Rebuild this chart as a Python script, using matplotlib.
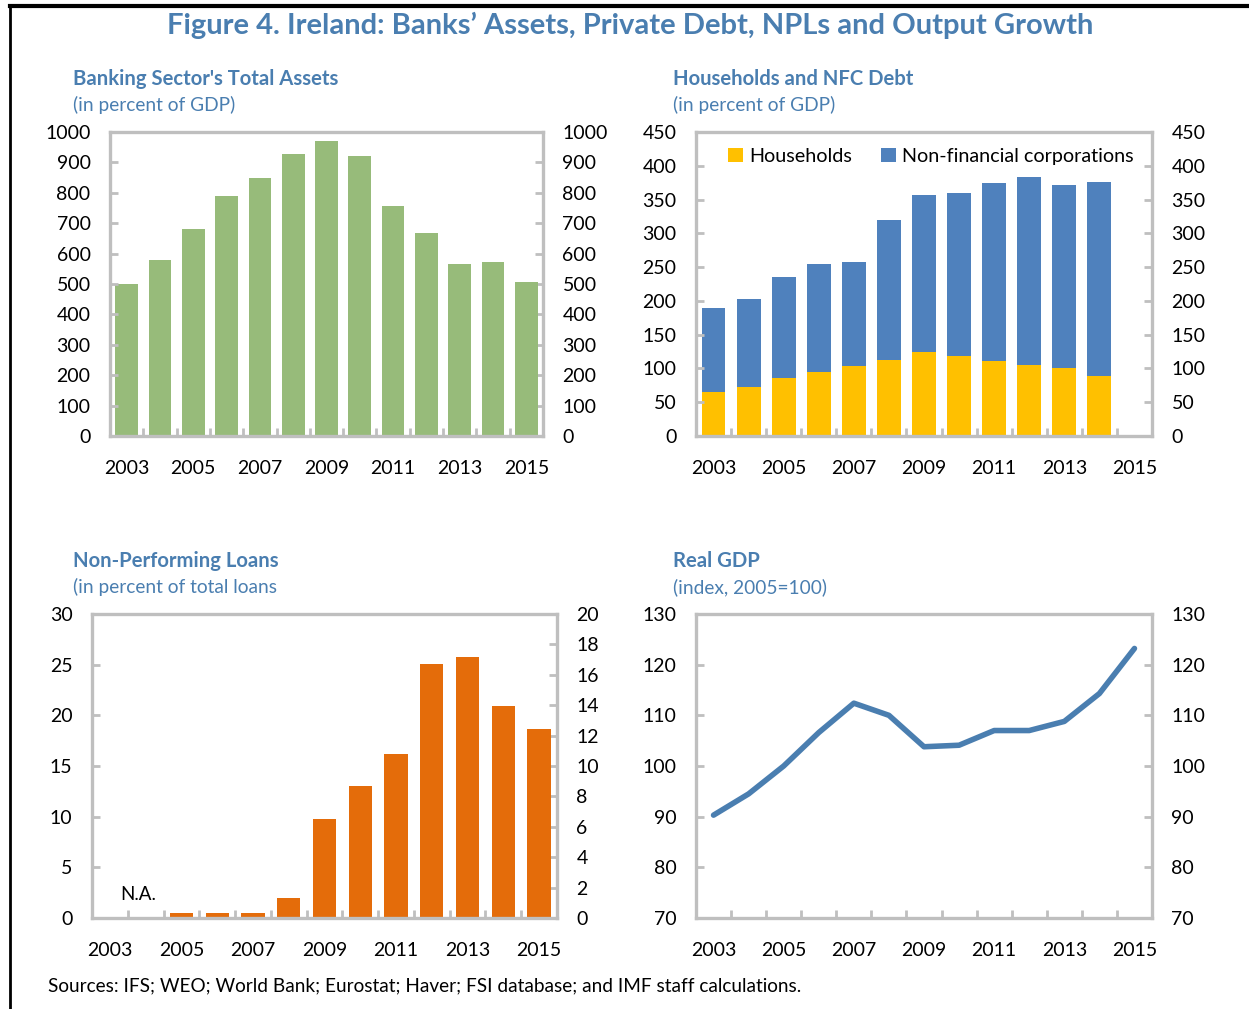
import numpy as np
import matplotlib.pyplot as plt
from matplotlib.lines import Line2D

plt.rcParams['font.family'] = ['Lato', 'DejaVu Sans']

years = list(range(2003, 2016))
year_labels = [str(y) if y % 2 == 1 else '' for y in years]

# banking sector total assets, % of GDP
bank_assets = [500, 578, 681, 789, 849, 927, 970, 922, 758, 668, 567, 572, 505]

# household and NFC debt, % of GDP (2003-2014, no 2015)
hh_debt = [65, 73, 86, 95, 103, 113, 124, 118, 111, 105, 100, 89]
debt_total = [189, 203, 236, 255, 257, 319, 357, 360, 374, 384, 371, 376]
nfc_debt = [t - h for t, h in zip(debt_total, hh_debt)]

# NPLs, % of total loans (2003-2004 not available)
npl_years = list(range(2005, 2016))
npl = [0.5, 0.5, 0.5, 1.95, 9.75, 13.0, 16.2, 25.1, 25.8, 20.9, 18.7]

# real GDP index, 2005=100
gdp = [90.3, 94.5, 100.0, 106.6, 112.4, 110.0, 103.8, 104.1, 107.0, 107.0, 108.8, 114.3, 123.2]

TITLE_BLUE = '#4A7EB0'
SPINE = '#BFBFBF'
GREEN = '#97BB7A'
YELLOW = '#FFC000'
BLUE = '#4F81BD'
ORANGE = '#E46C0A'
LINE_BLUE = '#4A7EB0'
FS = 14

W, H = 1249, 1009
fig = plt.figure(figsize=(W / 100, H / 100), dpi=100)


def rect(l, r, t, b):
    return [l / W, 1 - b / H, (r - l) / W, (b - t) / H]


def style(ax, ylim, yticks, right_lim=None, right_ticks=None):
    n = len(years)
    ax.set_xlim(-0.5, n - 0.5)
    ax.set_ylim(*ylim)
    ax.set_yticks(yticks)
    ax.set_xticks(range(n))
    ax.set_xticklabels(year_labels, fontsize=FS)
    ax.set_xticks(np.arange(n - 1) + 0.5, minor=True)
    ax.tick_params(axis='x', which='major', length=0, pad=17)
    ax.tick_params(axis='x', which='minor', direction='in', length=6, width=2, color=SPINE)
    ax.tick_params(axis='y', direction='in', length=6, width=2, color=SPINE, labelsize=FS, pad=14)
    for s in ax.spines.values():
        s.set_color(SPINE)
        s.set_linewidth(2.4)
    ax2 = ax.twinx()
    ax2.set_ylim(*(right_lim or ylim))
    ax2.set_yticks(right_ticks if right_ticks is not None else yticks)
    ax2.tick_params(axis='y', direction='in', length=6, width=2, color=SPINE, labelsize=FS, pad=14)
    for s in ax2.spines.values():
        s.set_visible(False)
    ax.set_zorder(ax2.get_zorder() + 1)
    ax.patch.set_visible(False)
    return ax2


def heading(x, y, title, sub):
    fig.text(x / W, 1 - y / H, title, color=TITLE_BLUE, fontsize=14.6, fontweight='bold', va='center')
    fig.text(x / W, 1 - (y + 26) / H, sub, color=TITLE_BLUE, fontsize=13.8, va='center')


x = np.arange(len(years))

# top left
ax1 = fig.add_axes(rect(110, 543, 132, 436))
ax1.bar(x, bank_assets, width=0.68, color=GREEN)
style(ax1, (0, 1000), range(0, 1001, 100))
heading(73, 79, "Banking Sector's Total Assets", '(in percent of GDP)')

# top right
ax2 = fig.add_axes(rect(696, 1152, 132, 436))
xb = np.arange(len(hh_debt))
ax2.bar(xb, hh_debt, width=0.68, color=YELLOW, label='Households')
ax2.bar(xb, nfc_debt, bottom=hh_debt, width=0.68, color=BLUE, label='Non-financial corporations')
style(ax2, (0, 450), range(0, 451, 50))
ax2.legend(loc='upper center', bbox_to_anchor=(0.515, 1.0), ncol=2, frameon=False, fontsize=FS + 0.2,
           handlelength=0.75, handleheight=0.75, handletextpad=0.3, columnspacing=1.5, borderaxespad=0.4)
heading(673, 79, 'Households and NFC Debt', '(in percent of GDP)')

# bottom left
ax3 = fig.add_axes(rect(92, 557, 614, 918))
ax3.bar([years.index(y) for y in npl_years], npl, width=0.65, color=ORANGE)
style(ax3, (0, 30), range(0, 31, 5), right_lim=(0, 20), right_ticks=range(0, 21, 2))
ax3.text(0.8, 1.5, 'N.A.', fontsize=FS - 0.5, ha='center', va='bottom')
heading(73, 561, 'Non-Performing Loans', '(in percent of total loans')

# bottom right
ax4 = fig.add_axes(rect(696, 1152, 614, 918))
ax4.plot(x, gdp, color=LINE_BLUE, linewidth=4, solid_capstyle='round', solid_joinstyle='round')
style(ax4, (70, 130), range(70, 131, 10))
heading(673, 561, 'Real GDP', '(index, 2005=100)')

fig.text(630 / W, 1 - 25 / H, 'Figure 4. Ireland: Banks\u2019 Assets, Private Debt, NPLs and Output Growth',
         color=TITLE_BLUE, fontsize=21, fontweight='bold', ha='center', va='center')
fig.text(48 / W, 1 - 986 / H, 'Sources: IFS; WEO; World Bank; Eurostat; Haver; FSI database; and IMF staff calculations.',
         fontsize=13.7, va='center')

# frame lines (top and left)
fig.add_artist(Line2D([10 / W, 1], [1 - 6 / H, 1 - 6 / H], color='black', linewidth=3))
fig.add_artist(Line2D([10 / W, 10 / W], [0, 1 - 6 / H], color='black', linewidth=2))

fig.savefig('out.png', dpi=100)
